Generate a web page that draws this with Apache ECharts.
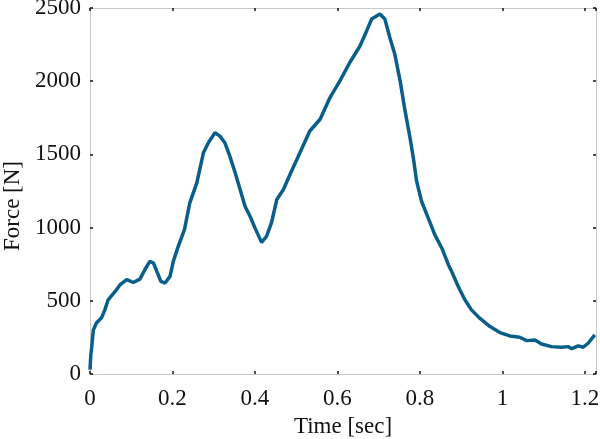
<!DOCTYPE html>
<html>
<head>
<meta charset="utf-8">
<script src="https://cdn.jsdelivr.net/npm/echarts@6/dist/echarts.min.js"></script>
<style>
  html, body { margin: 0; padding: 0; background: #fff; }
  #chart { width: 600px; height: 439px; }
</style>
</head>
<body>
<div id="chart"></div>
<script>
// force curve
const timeSec = [
  0, 0.002, 0.004, 0.008, 0.016, 0.028, 0.036, 0.044, 0.061, 0.073, 0.089,
  0.105, 0.121, 0.133, 0.145, 0.154, 0.162, 0.172, 0.182, 0.194, 0.202,
  0.214, 0.229, 0.242, 0.259, 0.275, 0.287, 0.303, 0.315, 0.327, 0.339,
  0.352, 0.364, 0.376, 0.388, 0.400, 0.416, 0.428, 0.440, 0.453, 0.469,
  0.485, 0.509, 0.533, 0.558, 0.582, 0.606, 0.630, 0.655, 0.671, 0.683,
  0.703, 0.715, 0.727, 0.739, 0.752, 0.764, 0.776, 0.784, 0.792, 0.804,
  0.820, 0.836, 0.853, 0.869, 0.877, 0.893, 0.909, 0.925, 0.945, 0.970,
  0.994, 1.018, 1.042, 1.059, 1.079, 1.095, 1.119, 1.143, 1.160, 1.168,
  1.184, 1.196, 1.208, 1.224
]
const forceN = [
  30, 130, 180, 300, 350, 384, 438, 507, 564, 610, 644,
  625, 648, 712, 769, 758, 701, 632, 621, 667, 769,
  872, 986, 1169, 1306, 1511, 1580, 1648, 1625, 1580, 1488,
  1375, 1260, 1146, 1078, 998, 899, 940, 1032, 1192, 1260,
  1363, 1511, 1660, 1740, 1888, 2002, 2128, 2242, 2345, 2425,
  2459, 2425, 2299, 2185, 2002, 1797, 1614, 1477, 1317, 1180,
  1066, 952, 861, 747, 700, 598, 507, 438, 381, 324,
  283, 260, 251, 228, 233, 205, 187, 183, 187, 173,
  192, 183, 210, 267
]
const xMax = 1.227
const yTicks = [0, 500, 1000, 1500, 2000, 2500]

const font = '"Liberation Serif", "Times New Roman", serif'
const frameColor = '#c8c8c8'
const tickStyle = { show: true, inside: true, length: 3, lineStyle: { color: '#111', width: 1.5 } }

const chart = echarts.init(document.getElementById('chart'))

function xLabel(v) {
  const k = v / 0.2
  if (Math.abs(k - Math.round(k)) > 1e-6) return ''
  return String(+v.toFixed(1))
}

chart.setOption({
  animation: false,
  backgroundColor: '#fff',
  grid: { left: 90, right: 4, top: 8, bottom: 65, outerBoundsMode: 'none' },
  // y title sits a little below the plot's middle in the reference
  graphic: [{
    type: 'text',
    x: 13,
    y: 206,
    rotation: Math.PI / 2,
    style: {
      text: 'Force [N]',
      font: '23px ' + font,
      fill: '#111',
      align: 'center',
      verticalAlign: 'middle',
    },
  }],
  xAxis: [{
    type: 'value',
    min: 0,
    max: xMax,
    interval: 0.2,
    name: 'Time [sec]',
    nameLocation: 'middle',
    nameGap: 41,
    nameTextStyle: { fontFamily: font, fontSize: 23, color: '#111' },
    axisLine: { show: true, onZero: false, lineStyle: { color: frameColor, width: 1 } },
    axisTick: tickStyle,
    axisLabel: { fontFamily: font, fontSize: 23, color: '#111', margin: 13, formatter: xLabel },
    splitLine: { show: false },
  }, {
    type: 'value',
    position: 'top',
    min: 0,
    max: xMax,
    interval: 0.2,
    axisLine: { show: true, onZero: false, lineStyle: { color: frameColor, width: 1 } },
    axisTick: tickStyle,
    axisLabel: { show: false },
    splitLine: { show: false },
  }],
  yAxis: [{
    type: 'value',
    min: yTicks[0],
    max: yTicks[yTicks.length - 1],
    interval: 500,
    axisLine: { show: true, onZero: false, lineStyle: { color: frameColor, width: 1 } },
    axisTick: tickStyle,
    axisLabel: { fontFamily: font, fontSize: 23, color: '#111', margin: 9, formatter: v => String(v) },
    splitLine: { show: false },
  }, {
    type: 'value',
    position: 'right',
    min: yTicks[0],
    max: yTicks[yTicks.length - 1],
    interval: 500,
    axisLine: { show: true, onZero: false, lineStyle: { color: frameColor, width: 1 } },
    axisTick: tickStyle,
    axisLabel: { show: false },
    splitLine: { show: false },
  }],
  series: [{
    type: 'line',
    data: timeSec.map((t, i) => [t, forceN[i]]),
    showSymbol: false,
    smooth: false,
    lineStyle: { color: '#0a5f8a', width: 3.5 },
    clip: true,
  }],
})
</script>
</body>
</html>
